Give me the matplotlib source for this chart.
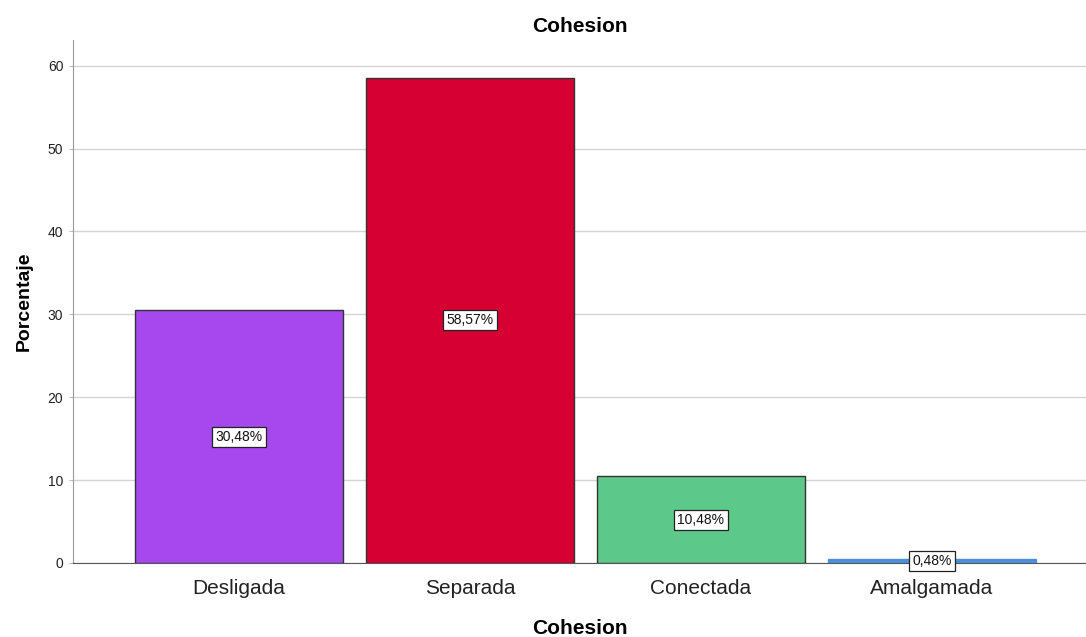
import matplotlib
matplotlib.use("Agg")
import matplotlib.pyplot as plt

categories = ["Desligada", "Separada", "Conectada", "Amalgamada"]
values = [30.48, 58.57, 10.48, 0.48]
labels = ["30,48%", "58,57%", "10,48%", "0,48%"]
colors = ["#a748ef", "#d60032", "#5cc98a", "#4a8fdb"]
edges = ["#333333", "#333333", "#333333", "#4a8fdb"]
yticks = [0, 10, 20, 30, 40, 50, 60]

plt.rcParams['font.family'] = ['Liberation Sans', 'DejaVu Sans']

fig = plt.figure(figsize=(10.86, 6.37), dpi=100)
ax = fig.add_axes([73/1086, 74/637, 1 - 73/1086, (563-40)/637])

x = list(range(len(categories)))
ax.bar(x, values, width=0.9, color=colors, edgecolor=edges, linewidth=1.0, zorder=3)
for xi, v, lab in zip(x, values, labels):
    ax.text(xi, v/2, lab, ha='center', va='center', fontsize=10, color='#111111', zorder=5,
            bbox=dict(boxstyle='square,pad=0.22', facecolor='white', edgecolor='#222222', linewidth=0.9))

ax.set_xlim(-0.719, 3.667)
ax.set_ylim(0, 63.1)
ax.set_yticks(yticks)
ax.set_xticks(x)
ax.set_xticklabels(categories, fontsize=15, color='#222222')
ax.tick_params(axis='y', labelsize=10, labelcolor='#222222', length=3, color='#bbbbbb', pad=4)
ax.tick_params(axis='x', length=0, pad=11.5)
ax.yaxis.grid(True, color='#d4d4d4', linewidth=1.0, zorder=0)
ax.set_axisbelow(True)
for s in ['top', 'right']:
    ax.spines[s].set_visible(False)
ax.spines['left'].set_color('#9a9a9a')
ax.spines['bottom'].set_color('#555555')

ax.set_title("Cohesion", fontsize=15, fontweight='bold', pad=6)
ax.set_xlabel("Cohesion", fontsize=15, fontweight='bold', labelpad=15.5)
ax.set_ylabel("Porcentaje", fontsize=14, fontweight='bold', labelpad=10.5)

fig.savefig("out.png", dpi=100)
